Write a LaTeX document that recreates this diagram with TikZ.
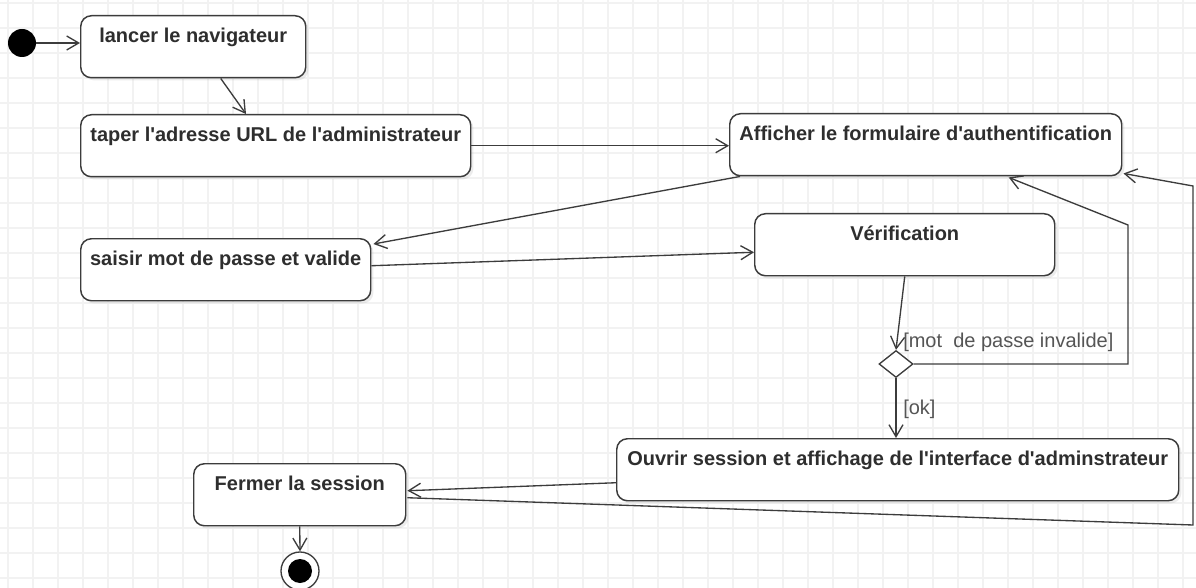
\documentclass[tikz,border=0pt]{standalone}
\usepackage{fontspec}
\setmainfont{Liberation Sans}
\usetikzlibrary{arrows.meta,calc,shapes.geometric,shadows}
\definecolor{ink}{HTML}{3C3C3C}
\definecolor{txt}{HTML}{2E2E2E}
\definecolor{guardc}{HTML}{555555}
\definecolor{gridc}{HTML}{F2F2F2}
\newcommand\sq{\textquotesingle}
\begin{document}
\begin{tikzpicture}[x=0.75pt,y=-0.75pt,
  act/.style={draw=ink, line width=1.1pt, rounded corners=8pt, fill=white,
    drop shadow={shadow xshift=2pt,shadow yshift=-2pt,opacity=0.15},
    anchor=north west, inner xsep=3pt, inner ysep=0pt,
    text height=20.25pt, text depth=26.25pt,
    font=\fontsize{15}{18}\selectfont\bfseries, text=txt},
  flow/.style={draw=ink, line width=1pt,
    -{Straight Barb[length=9pt,width=10.5pt,line width=1pt]}},
  guardlbl/.style={font=\fontsize{15}{18}\selectfont, text=guardc,
    anchor=base west, inner sep=0pt}]
\useasboundingbox (0,0) rectangle (1196,588);
\fill[white] (0,0) rectangle (1196,588);
% background grid
\foreach \gx in {8,33,...,1196} \draw[gridc, line width=0.8pt] (\gx,0) -- (\gx,588);
\foreach \gy in {3,28,...,588} \draw[gridc, line width=0.8pt] (0,\gy) -- (1196,\gy);

% initial and final states
\node[circle, fill=black, minimum size=21pt, inner sep=0pt] (start) at (22,43) {};
\node[circle, draw=ink, line width=1pt, fill=white, minimum size=28.5pt, inner sep=0pt] (stop) at (300,571) {};
\node[circle, fill=black, minimum size=18pt, inner sep=0pt] (stopdot) at (stop) {};

% activities
\node[act, minimum width=168.75pt] (n1) at (80,15) {lancer le navigateur};
\node[act, minimum width=292.5pt] (n2) at (80,114) {taper l\sq adresse URL de l\sq administrateur};
\node[act, minimum width=294pt] (n3) at (729,113) {Afficher le formulaire d\sq authentification};
\node[act, minimum width=217.5pt] (n4) at (80,238) {saisir mot de passe et valide};
\node[act, minimum width=225pt] (n5) at (754,213) {Vérification};
\node[act, minimum width=421.5pt] (n6) at (616,438) {Ouvrir session et affichage de l\sq interface d\sq adminstrateur};
\node[act, minimum width=159pt] (n7) at (193,463) {Fermer la session};

% decision
\node[diamond, draw=ink, line width=1pt, fill=white, minimum width=25.5pt,
  minimum height=20.25pt, inner sep=0pt] (dec) at (896,364) {};

% guards
\node[guardlbl] (gbad) at (903,347) {[mot\ \ de passe invalide]};
\node[guardlbl] (gok) at (903,414) {[ok]};

% bend points
\coordinate (loopA) at (1128,225);
\coordinate (backB) at (1193,525);
\coordinate (backC) at (1193,186);

% transitions
\draw[flow] (start.east) -- (start.east -| n1.west);
\draw[flow] ($(n1.south)+(27.5,0)$) -- ($(n2.north west)+(166,0)$);
\draw[flow] (n2.east) -- (n2.east -| n3.west);
\draw[flow] ($(n3.south west)+(11,0)$) -- ($(n4.north east)+(2,6)$);
\draw[flow] ($(n4.east)+(0,-4)$) -- ($(n5.west)+(0,7.5)$);
\draw[flow] (n5.south) -- (dec.north);
\draw[flow] (dec.east) -- (dec.east -| loopA) -- (loopA) -- ($(n3.south)+(83,1)$);
\draw[flow] (dec.south) -- (dec.south |- n6.north);
\draw[flow] ($(n6.west)+(0,13)$) -- ($(n7.east)+(1,-4)$);
\draw[flow] ($(n7.east)+(1,3)$) -- (backB) -- (backC) -- ($(n3.south east)+(1,-3)$);
\draw[flow] (n7.south) -- (stop.north);
\end{tikzpicture}
\end{document}
